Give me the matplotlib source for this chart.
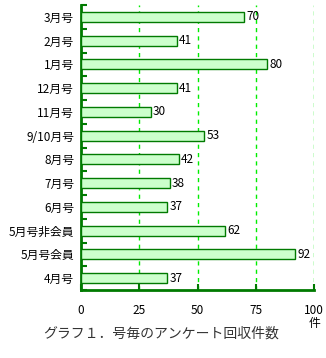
import matplotlib
matplotlib.use("Agg")
import matplotlib.pyplot as plt
import numpy as np

plt.rcParams['font.family'] = ['Noto Sans CJK JP', 'DejaVu Sans']

categories = ["3月号", "2月号", "1月号", "12月号", "11月号", "9/10月号", "8月号",
              "7月号", "6月号", "5月号非会員", "5月号会員", "4月号"]
values = [70, 41, 80, 41, 30, 53, 42, 38, 37, 62, 92, 37]
xticks = [0, 25, 50, 75, 100]
xticklabels = ["0", "25", "50", "75", "100"]
unit_label = "件"
title = "グラフ１．号毎のアンケート回収件数"

dark = "#007a00"
fig = plt.figure(figsize=(3.26, 3.58), dpi=100)
ax = fig.add_axes([81/326, 1-290/358, (314-81)/326, (290-5)/358])

n = len(categories)
ypos = np.arange(n)[::-1]
ax.barh(ypos, values, height=0.43, color="#ccffcc", edgecolor=dark, linewidth=1.0, zorder=3)
for y, v in zip(ypos, values):
    ax.annotate(str(v), (v, y), xytext=(1.5, 0), textcoords="offset points",
                va="center", ha="left", fontsize=8.5, zorder=4)

ax.set_xlim(0, 100)
ax.set_ylim(-0.5, n - 0.5)
for xv in xticks[1:]:
    ax.axvline(xv, color="#00ee00", linestyle=(0, (3, 3)), linewidth=1.0, zorder=1)

ax.spines['top'].set_visible(False)
ax.spines['right'].set_visible(False)
for s in ('left', 'bottom'):
    ax.spines[s].set_color(dark)
    ax.spines[s].set_linewidth(2)

ax.set_yticks(ypos)
ax.set_yticklabels(categories, fontsize=8.5)
ax.set_yticks(np.arange(n + 1) - 0.5, minor=True)
ax.tick_params(axis='y', which='major', length=0, pad=5)
ax.tick_params(axis='y', which='minor', length=4, width=1.5, direction='in', color=dark)

ax.set_xticks(xticks)
ax.set_xticklabels(xticklabels, fontsize=8.5)
ax.tick_params(axis='x', which='major', length=4, width=1.5, direction='in', color=dark, pad=10)

fig.text(314/326, 1-323/358, unit_label, ha="center", va="center", fontsize=8.5)
fig.text(161/326, 1-334/358, title, ha="center", va="center", fontsize=10, color="#333333")

fig.savefig("out.png", dpi=100)
